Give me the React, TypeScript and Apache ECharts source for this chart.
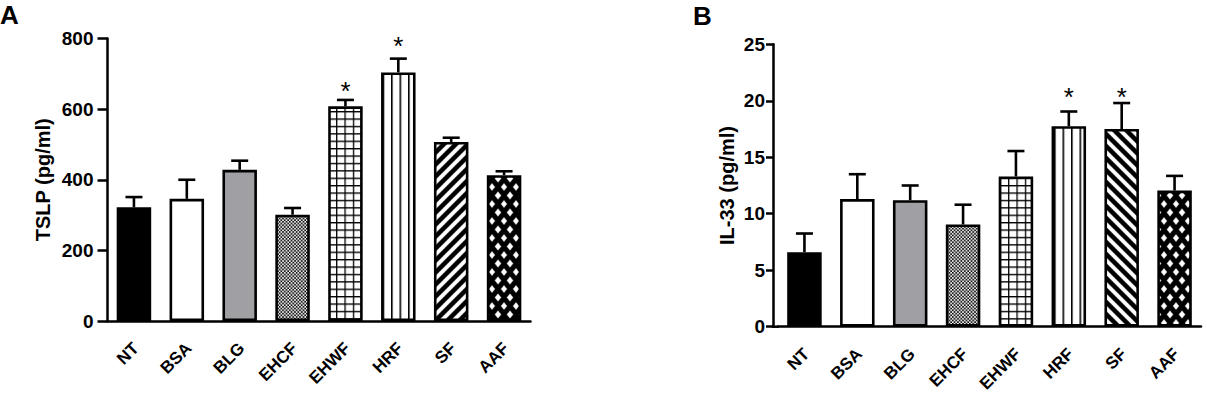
import React, { useEffect, useRef } from "react";
import * as echarts from "echarts";

// ---------- data ----------
const categories = ["NT", "BSA", "BLG", "EHCF", "EHWF", "HRF", "SF", "AAF"];

const tslpMean = [322, 346, 428, 301, 608, 704, 507, 413];
const tslpSem = [29, 54, 26, 19, 18, 39, 12, 11];
const tslpStarLevel: (number | null)[] = [null, null, null, null, 667, 795, null, null];

const il33Mean = [6.6, 11.3, 11.2, 9.05, 13.3, 17.75, 17.5, 12.05];
const il33Sem = [1.65, 2.2, 1.3, 1.75, 2.25, 1.3, 2.3, 1.3];
const il33StarLevel: (number | null)[] = [null, null, null, null, null, 20.85, 20.85, null];

const tslpAxis = { min: 0, max: 800, interval: 200 };
const il33Axis = { min: 0, max: 25, interval: 5 };

const FONT = '"Liberation Sans", Arial, Helvetica, sans-serif';

// ---------- patterns ----------
function tile(w: number, h: number, draw: (ctx: CanvasRenderingContext2D) => void) {
  const k = 6;
  const c = document.createElement("canvas");
  c.width = Math.round(w * k);
  c.height = Math.round(h * k);
  const ctx = c.getContext("2d") as CanvasRenderingContext2D;
  ctx.scale(c.width / w, c.height / h);
  draw(ctx);
  return { image: c, repeat: "repeat", imageWidth: w, imageHeight: h };
}

function makePatterns() {
  const checker = tile(3.4, 3.4, (ctx) => {
    ctx.fillStyle = "#fff";
    ctx.fillRect(0, 0, 3.4, 3.4);
    ctx.fillStyle = "#000";
    ctx.fillRect(0, 0, 1.7, 1.7);
    ctx.fillRect(1.7, 1.7, 1.7, 1.7);
  });
  const grid = tile(8.4, 7.4, (ctx) => {
    ctx.fillStyle = "#fff";
    ctx.fillRect(0, 0, 8.4, 7.4);
    ctx.fillStyle = "#000";
    ctx.fillRect(0, 0, 1.4, 7.4);
    ctx.fillRect(0, 0, 8.4, 1.4);
  });
  const vlines = tile(8.5, 4, (ctx) => {
    ctx.fillStyle = "#fff";
    ctx.fillRect(0, 0, 8.5, 4);
    ctx.fillStyle = "#000";
    ctx.fillRect(0, 0, 1.8, 4);
  });
  const s = 12;
  const diagUp = tile(s, s, (ctx) => {
    ctx.fillStyle = "#fff";
    ctx.fillRect(0, 0, s, s);
    ctx.strokeStyle = "#000";
    ctx.lineWidth = 4.6;
    for (const c of [0, s, 2 * s]) {
      ctx.beginPath();
      ctx.moveTo(-3, c + 3);
      ctx.lineTo(c + 3, -3);
      ctx.stroke();
    }
  });
  const diagDown = tile(s, s, (ctx) => {
    ctx.fillStyle = "#fff";
    ctx.fillRect(0, 0, s, s);
    ctx.strokeStyle = "#000";
    ctx.lineWidth = 4.6;
    for (const c of [-s, 0, s]) {
      ctx.beginPath();
      ctx.moveTo(c - 3, -3);
      ctx.lineTo(c + s + 3, s + 3);
      ctx.stroke();
    }
  });
  const dw = 12, dh = 17, hx = 3.2, hy = 3.9;
  const diamonds = tile(dw, dh, (ctx) => {
    ctx.fillStyle = "#000";
    ctx.fillRect(0, 0, dw, dh);
    ctx.fillStyle = "#fff";
    const centers = [
      [dw / 2, dh / 2],
      [0, 0],
      [dw, 0],
      [0, dh],
      [dw, dh],
    ];
    for (const [cx, cy] of centers) {
      ctx.beginPath();
      ctx.moveTo(cx, cy - hy);
      ctx.lineTo(cx + hx, cy);
      ctx.lineTo(cx, cy + hy);
      ctx.lineTo(cx - hx, cy);
      ctx.closePath();
      ctx.fill();
    }
  });
  return { checker, grid, vlines, diagUp, diagDown, diamonds };
}

// ---------- helpers ----------
const axisLineStyle = { color: "#000", width: 2.5 };

function xAxisFor(gridIndex: number) {
  return {
    type: "category",
    gridIndex,
    data: categories,
    axisLine: { lineStyle: axisLineStyle },
    axisTick: { alignWithLabel: true, length: 7, lineStyle: axisLineStyle },
    // labels are drawn as rotated texts placed through the axis scale (see below)
    axisLabel: { show: false, interval: 0 },
    splitLine: { show: false },
  };
}

function yAxisFor(
  gridIndex: number,
  name: string,
  range: { min: number; max: number; interval: number },
  nameGap: number,
  margin: number,
  tickLen: number,
  offset: number
) {
  return {
    type: "value",
    gridIndex,
    min: range.min,
    max: range.max,
    interval: range.interval,
    offset,
    name,
    nameLocation: "middle",
    nameGap,
    nameTextStyle: { color: "#000", fontWeight: "bold", fontSize: 20, fontFamily: FONT },
    axisLine: { show: true, lineStyle: axisLineStyle },
    axisTick: { show: true, length: tickLen, lineStyle: axisLineStyle },
    axisLabel: { margin, color: "#000", fontWeight: "bold", fontSize: 19, fontFamily: FONT },
    splitLine: { show: false },
  };
}

function barSeries(axisIndex: number, values: number[], fills: any[]) {
  return {
    type: "bar",
    xAxisIndex: axisIndex,
    yAxisIndex: axisIndex,
    barWidth: 34.5,
    data: values.map((v, i) => ({
      value: v,
      itemStyle: { color: fills[i], borderColor: "#000", borderWidth: 2.6 },
    })),
    z: 2,
  };
}

function errorSeries(axisIndex: number, means: number[], sems: number[]) {
  return {
    type: "custom",
    xAxisIndex: axisIndex,
    yAxisIndex: axisIndex,
    encode: { x: 0, y: [1, 2] },
    data: means.map((m, i) => [i, m, m + sems[i]]),
    z: 3,
    renderItem: (params: any, api: any) => {
      const i = api.value(0);
      const p0 = api.coord([i, api.value(1)]);
      const p1 = api.coord([i, api.value(2)]);
      const st = { stroke: "#000", lineWidth: 2.6 };
      return {
        type: "group",
        children: [
          { type: "line", shape: { x1: p0[0], y1: p0[1], x2: p1[0], y2: p1[1] }, style: st },
          { type: "line", shape: { x1: p1[0] - 8.5, y1: p1[1], x2: p1[0] + 8.5, y2: p1[1] }, style: st },
        ],
      };
    },
  };
}

function starSeries(axisIndex: number, levels: (number | null)[]) {
  const data: number[][] = [];
  levels.forEach((lv, i) => {
    if (lv != null) data.push([i, lv]);
  });
  return {
    type: "custom",
    xAxisIndex: axisIndex,
    yAxisIndex: axisIndex,
    encode: { x: 0, y: 1 },
    data,
    z: 4,
    renderItem: (params: any, api: any) => {
      const p = api.coord([api.value(0), api.value(1)]);
      return {
        type: "text",
        x: p[0],
        y: p[1] + 6,
        style: {
          text: "*",
          fill: "#000",
          fontSize: 26,
          fontFamily: FONT,
          align: "center",
          verticalAlign: "middle",
        },
      };
    },
  };
}

export default function App() {
  const ref = useRef<HTMLDivElement>(null);

  useEffect(() => {
    if (!ref.current) return;
    const chart = echarts.init(ref.current, undefined, { renderer: "svg" });
    const p = makePatterns();
    const fillsA = ["#000000", "#ffffff", "#a0a0a4", p.checker, p.grid, p.vlines, p.diagUp, p.diamonds];
    const fillsB = ["#000000", "#ffffff", "#a0a0a4", p.checker, p.grid, p.vlines, p.diagDown, p.diamonds];

    const baseGraphics: any[] = [
      {
        type: "text",
        x: 0,
        y: 15,
        style: { text: "A", fill: "#000", fontSize: 26, fontWeight: "bold", fontFamily: FONT, align: "left", verticalAlign: "middle" },
      },
      {
        type: "text",
        x: 693,
        y: 15.5,
        style: { text: "B", fill: "#000", fontSize: 26, fontWeight: "bold", fontFamily: FONT, align: "left", verticalAlign: "middle" },
      },
      {
        type: "line",
        shape: { x1: 771.75, y1: 326.7, x2: 779, y2: 326.7 },
        style: { stroke: "#000", lineWidth: 2.5 },
      },
    ];

    const option: any = {
      animation: false,
      backgroundColor: "#ffffff",
      grid: [
        { left: 107.5, top: 38.5, width: 423, height: 282.5, outerBoundsMode: "none", containLabel: false },
        { left: 778, top: 44.3, width: 423, height: 282.4, outerBoundsMode: "none", containLabel: false },
      ],
      xAxis: [xAxisFor(0), xAxisFor(1)],
      yAxis: [
        yAxisFor(0, "TSLP (pg/ml)", tslpAxis, 55, 14, 10, 0),
        yAxisFor(1, "IL-33 (pg/ml)", il33Axis, 36, 8, 7, 5),
      ],
      series: [
        barSeries(0, tslpMean, fillsA),
        errorSeries(0, tslpMean, tslpSem),
        starSeries(0, tslpStarLevel),
        barSeries(1, il33Mean, fillsB),
        errorSeries(1, il33Mean, il33Sem),
        starSeries(1, il33StarLevel),
      ],
      graphic: baseGraphics,
    };
    chart.setOption(option);

    // category labels, rotated 45°, anchored at each tick through the axis scale
    const labelGraphics: any[] = [];
    [0, 1].forEach((g) => {
      categories.forEach((cat, i) => {
        const pt = chart.convertToPixel({ gridIndex: g }, [i, 0]) as number[];
        if (!pt) return;
        labelGraphics.push({
          type: "text",
          x: pt[0] + 2,
          y: pt[1] + 24.5,
          rotation: Math.PI / 4,
          style: {
            text: cat,
            fill: "#000",
            fontSize: 17,
            fontWeight: "bold",
            fontFamily: FONT,
            align: "right",
            verticalAlign: "middle",
          },
        });
      });
    });
    chart.setOption({ graphic: [...baseGraphics, ...labelGraphics] });

    return () => chart.dispose();
  }, []);

  return (
    <div
      ref={ref}
      style={{ position: "fixed", left: 0, top: 0, width: 1207, height: 401, background: "#fff" }}
    />
  );
}
